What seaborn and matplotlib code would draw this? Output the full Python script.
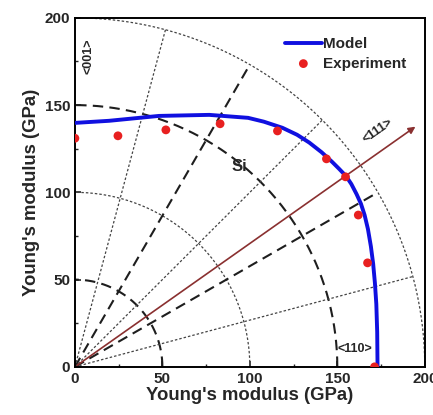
import numpy as np
import pandas as pd
import seaborn as sns
import matplotlib.pyplot as plt

# model curve, GPa
model_x = [0, 19.5, 48, 76.8, 99, 108, 118.6, 127, 134, 141, 147, 151, 155, 158,
           161, 163.5, 165.6, 167.5, 169.2, 170.5, 171.5, 172.3, 172.8, 173]
model_y = [139.8, 141, 143.8, 144.4, 142.7, 140.5, 137, 133, 128.5, 123, 117.5, 113.5,
           109.3, 104.8, 99, 93.5, 87, 79, 69, 59, 48, 36, 20, 0]

# experiment points
exp_x = [0, 24.6, 52, 83, 115.8, 143.8, 154.7, 162, 167.3, 171.3]
exp_y = [131, 132.4, 135.8, 139.3, 135.2, 119.2, 108.9, 87, 59.6, 0]

ticks = [0, 50, 100, 150, 200]

sns.set_style("ticks")
plt.rcParams['font.family'] = ['Liberation Sans', 'DejaVu Sans']
plt.rcParams['font.weight'] = 'bold'

fig = plt.figure(figsize=(4.33, 4.15), dpi=100)
ax = fig.add_axes([0.173, 0.116, 0.808, 0.841])

# polar guide lines
th = np.linspace(0, np.pi / 2, 200)
for r in [50, 150]:
    ax.plot(r * np.cos(th), r * np.sin(th), color='#1e1e1e', lw=1.5, dashes=(5, 3), zorder=1)
for r in [100, 200]:
    ax.plot(r * np.cos(th), r * np.sin(th), color='#444444', lw=0.9, dashes=(2, 1.6), zorder=1)
for a in [30, 60]:
    t = np.radians(a)
    ax.plot([0, 200 * np.cos(t)], [0, 200 * np.sin(t)], color='#1e1e1e', lw=1.5, dashes=(5, 3), zorder=1)
for a in [15, 45, 75]:
    t = np.radians(a)
    ax.plot([0, 200 * np.cos(t)], [0, 200 * np.sin(t)], color='#444444', lw=0.9, dashes=(2, 1.6), zorder=1)

# <111> direction arrow
t111 = np.arctan(1 / np.sqrt(2))
ax.annotate('', xy=(240 * np.cos(t111), 240 * np.sin(t111)), xytext=(0, 0),
            arrowprops=dict(arrowstyle='-|>', color='#8a3030', lw=1.2, mutation_scale=10),
            annotation_clip=False, zorder=2)

model = pd.DataFrame({'x': model_x, 'y': model_y})
exp = pd.DataFrame({'x': exp_x, 'y': exp_y})
sns.lineplot(data=model, x='x', y='y', sort=False, color='#1010e0', lw=2.8, ax=ax,
             label='Model', zorder=3)
sns.scatterplot(data=exp, x='x', y='y', color='#e82020', s=40, edgecolor='none', ax=ax,
                label='Experiment', zorder=4)

ax.text(8, 178, '<001>', rotation=90, fontsize=9, fontweight='bold', ha='center', va='center')
ax.text(173, 135, '<111>', rotation=35, fontsize=9, fontweight='bold', ha='center', va='center')
ax.text(160, 10, '<110>', fontsize=9, fontweight='bold', ha='center', va='center')
ax.text(94, 115, 'Si', fontsize=12, fontweight='bold', ha='center', va='center')

ax.set_xlim(0, 200)
ax.set_ylim(0, 200)
ax.set_xticks(ticks)
ax.set_yticks(ticks)
ax.set_xticks([25, 75, 125, 175], minor=True)
ax.set_yticks([25, 75, 125, 175], minor=True)
ax.tick_params(direction='in', labelsize=11, width=1.2, length=4)
ax.tick_params(which='minor', direction='in', width=1, length=2.5)
for lab in ax.get_xticklabels() + ax.get_yticklabels():
    lab.set_fontweight('bold')
for sp in ax.spines.values():
    sp.set_linewidth(1.4)
    sp.set_color('black')

ax.set_xlabel("Young's modulus (GPa)", fontsize=13.3, fontweight='bold', labelpad=1)
ax.set_ylabel("Young's modulus (GPa)", fontsize=13.3, fontweight='bold', labelpad=3)

leg = ax.legend(loc='upper left', bbox_to_anchor=(0.57, 0.975), frameon=False,
                fontsize=11, handlelength=2.4, handletextpad=0.1, labelspacing=0.35,
                borderaxespad=0.3)
for txt in leg.get_texts():
    txt.set_fontweight('bold')

fig.savefig('out.png', dpi=100)
